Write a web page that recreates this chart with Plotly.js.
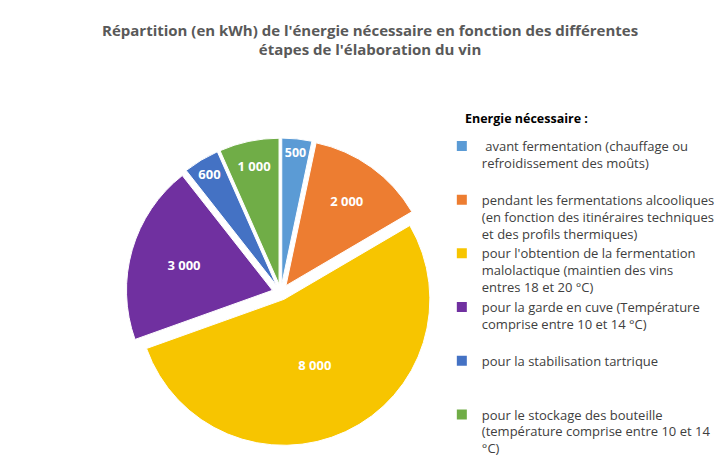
<!DOCTYPE html>
<html><head><meta charset="utf-8">
<script src="https://cdn.plot.ly/plotly-3.0.1.min.js"></script>
<style>html,body{margin:0;padding:0;background:#fff;}#chart{width:720px;height:476px;}</style>
</head><body><div id="chart"></div>
<script>
const categories = [
  " avant fermentation (chauffage ou<br>refroidissement des moûts)<br> ",
  "pendant les fermentations alcooliques<br>(en fonction des itinéraires techniques<br>et des profils thermiques)",
  "pour l'obtention de la fermentation<br>malolactique (maintien des vins<br>entres 18 et 20 °C)",
  "pour la garde en cuve (Température<br>comprise entre 10 et 14 °C)<br> ",
  "pour la stabilisation tartrique<br> <br> ",
  "pour le stockage des bouteille<br>(température comprise entre 10 et 14<br>°C)"
];
const values = [500, 2000, 8000, 3000, 600, 1000];
const colors = ["#5B9BD5", "#ED7D31", "#F7C500", "#7030A0", "#4472C4", "#70AD47"];
const pulls = [0.06, 0.06, 0.05, 0.06, 0.06, 0.06];
const legendTitle = "Energie nécessaire :";

const data = [{
  type: "pie",
  labels: categories,
  values: values,
  sort: false,
  direction: "clockwise",
  rotation: 0,
  pull: pulls,
  marker: {colors: colors, line: {color: "#ffffff", width: 1}},
  texttemplate: "%{value:,}",
  textinfo: "value",
  textposition: "inside",
  insidetextorientation: "horizontal",
  textfont: {family: "Open Sans, Liberation Sans, sans-serif", size: 13, color: "#ffffff", weight: "bold"},
  hoverinfo: "label+value",
  domain: {x: [0.17, 0.65], y: [0.06, 0.71]}
}];

const layout = {
  width: 720, height: 476,
  paper_bgcolor: "#ffffff",
  margin: {l: 0, r: 0, t: 0, b: 0},
  separators: ", ",
  title: {
    text: "<b>Répartition (en kWh) de l'énergie nécessaire en fonction des différentes<br>étapes de l'élaboration du vin</b>",
    font: {family: "Open Sans, Liberation Sans, sans-serif", size: 15, color: "#595959"},
    x: 0.514, xanchor: "center", y: 0.925, yanchor: "top"
  },
  annotations: [{
    text: "<b>" + legendTitle + "</b>",
    xref: "paper", yref: "paper", x: 0.676, xanchor: "left", y: 1 - 118/476, yanchor: "middle",
    showarrow: false,
    font: {family: "Open Sans, Liberation Sans, sans-serif", size: 12.5, color: "#000000"}
  }],
  showlegend: true,
  legend: {
    x: 0.645, xanchor: "left", y: 1 - 131/476, yanchor: "top",
    valign: "top",
    font: {family: "Open Sans, Liberation Sans, sans-serif", size: 13, color: "#404040"},
    itemsizing: "constant",
    itemwidth: 30,
    tracegroupgap: 0,
    bgcolor: "rgba(0,0,0,0)"
  }
};
Plotly.newPlot("chart", data, layout, {displayModeBar: false, staticPlot: true});
</script></body></html>
